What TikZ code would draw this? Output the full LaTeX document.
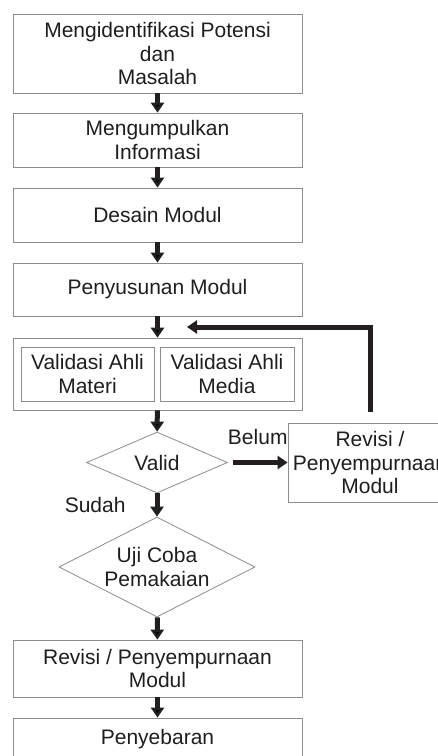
\documentclass[tikz,border=0pt]{standalone}
\usepackage{fontspec}
\setmainfont{Liberation Sans}
\usetikzlibrary{shapes.geometric,arrows.meta,fit}

\definecolor{boxgray}{HTML}{8C8C8C}
\definecolor{arrowblack}{HTML}{231F20}
\definecolor{textdark}{HTML}{1E1E1E}

\tikzstyle{block} = [rectangle, draw=boxgray, line width=0.8pt, text=textdark,
	align=center, minimum width=289pt, inner sep=0pt]
\tikzstyle{smallblock} = [rectangle, draw=boxgray, line width=0.8pt, text=textdark,
	align=center, minimum height=54pt, inner sep=0pt]
\tikzstyle{decision} = [diamond, draw=boxgray, line width=0.8pt, text=textdark,
	align=center, inner sep=0pt]
\tikzstyle{arrow} = [draw=arrowblack, line width=5pt,
	-{Triangle[width=13pt,length=10pt]}]
\tikzstyle{answer} = [text=textdark, inner sep=0pt]

\begin{document}
\begin{tikzpicture}[x=1pt, y=-1pt, font=\fontsize{21}{23.5}\selectfont]
	\useasboundingbox (0,0) rectangle (438,756);

	\node [block, minimum height=79pt] (MP) at (157.5,53.5) {Mengidentifikasi Potensi\\ dan\\ Masalah};
	\node [block, minimum height=54pt] (MI) at (157.5,140) {Mengumpulkan\\ Informasi};
	\node [block, minimum height=54pt] (DM) at (157.5,215) {Desain Modul};
	\node [block, minimum height=53pt] (PM) at (157.5,289.5) {Penyusunan Modul};

	% validasi
	\node [smallblock, minimum width=133pt] (VM) at (87.5,374) {Validasi Ahli\\ Materi};
	\node [smallblock, minimum width=134pt] (VD) at (227,374) {Validasi Ahli\\ Media};
	\node [draw=boxgray, line width=0.8pt, inner xsep=7.5pt, inner ysep=8.5pt, fit=(VM) (VD)] (VA) {};

	\node [decision, aspect=2.31, minimum width=141pt, minimum height=61pt] (VL) at (157,462.5) {Valid};
	\node [block, minimum width=164pt, minimum height=79pt] (RV) at (370,462.5) {Revisi /\\ Penyempurnaan\\ Modul};
	\node [decision, aspect=1.96, minimum width=196pt, minimum height=100pt] (UC) at (157,567) {Uji Coba\\ Pemakaian};
	\node [block, minimum height=57pt] (RM) at (157.5,668.5) {Revisi / Penyempurnaan\\ Modul};
	\node [block, minimum height=42pt] (PY) at (157.5,739) {Penyebaran};

	\coordinate (back) at (187,327);

	\path[arrow] (MP) edge (MI);
	\path[arrow] (MI) edge (DM);
	\path[arrow] (DM) edge (PM);
	\path[arrow] (PM) edge (VA);
	\path[arrow] (VA) edge (VL);

	\draw[arrow, shorten <=5pt] (VL.east) -- node [answer, above=15pt] {Belum} (RV.west);
	\draw[arrow, shorten <=11pt] (RV.north) |- (back);

	\draw[arrow] (VL.south) -- node [answer, left=29pt] {Sudah} (UC.north);
	\path[arrow] (UC) edge (RM);
	\path[arrow] (RM) edge (PY);
\end{tikzpicture}
\end{document}
